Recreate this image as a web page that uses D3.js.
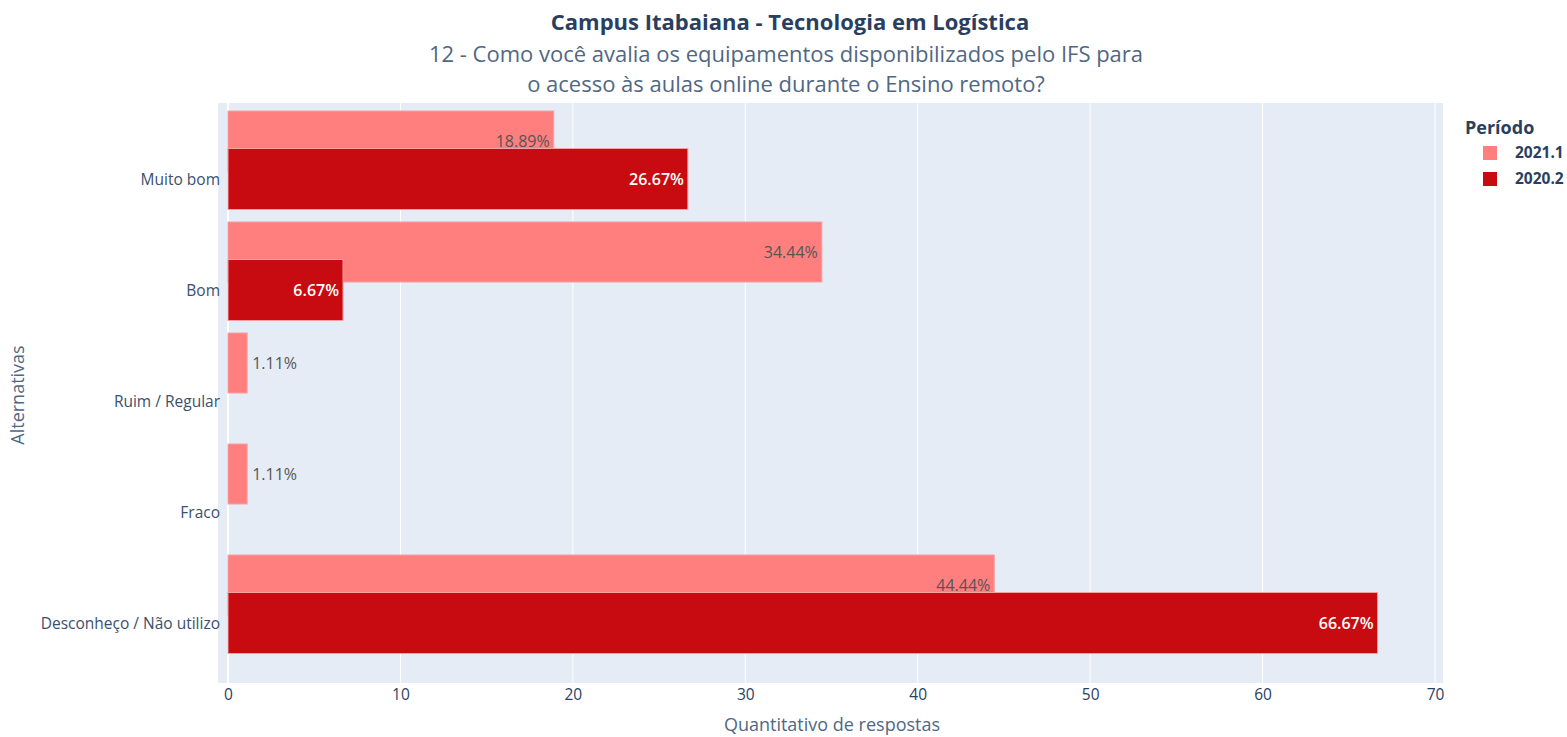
<!DOCTYPE html>
<html><head><meta charset="utf-8">
<script src="https://cdn.jsdelivr.net/npm/d3@7"></script>
<style>body{margin:0;background:#fff;} text{font-family:"Open Sans",sans-serif;}</style>
</head><body><svg id="c" width="1567" height="737"></svg>
<script>
const categories = ["Muito bom","Bom","Ruim / Regular","Fraco","Desconheço / Não utilizo"];
const series = ["2021.1","2020.2"];
const values2021 = [18.89, 34.44, 1.11, 1.11, 44.44];
const values2020 = [26.67, 6.67, 0, 0, 66.67];
const xTicks = [0,10,20,30,40,50,60,70];
const colors = ["#ff7f7f","#c80b10"];

const svg = d3.select("#c");
const plot = {l:218,r:1443,t:103,b:683};
svg.append("rect").attr("x",plot.l).attr("y",plot.t).attr("width",plot.r-plot.l).attr("height",plot.b-plot.t).attr("fill","#e5ecf6");

const x = d3.scaleLinear().domain([0,70]).range([228,1435]);
const y = d3.scalePoint().domain(categories).range([179,623]);
const step = y.step();

svg.append("g").selectAll("line").data(xTicks).join("line")
 .attr("x1",d=>x(d)).attr("x2",d=>x(d)).attr("y1",plot.t).attr("y2",plot.b)
 .attr("stroke","#fff").attr("stroke-width",d=>d===0?2:1);

const xAxis = d3.axisBottom(x).tickValues(xTicks).tickSize(0).tickPadding(0);
const gx = svg.append("g").attr("transform",`translate(0,${plot.b})`).call(xAxis);
gx.select(".domain").remove();
gx.selectAll("text").attr("y",17).attr("font-size",15.5).attr("fill","#2a3f5f").attr("font-family","Open Sans").attr("dy","0");

const yAxis = d3.axisLeft(y).tickSize(0).tickPadding(0);
const gy = svg.append("g").attr("transform",`translate(220,0)`).call(yAxis);
gy.select(".domain").remove();
gy.selectAll("text").attr("x",0).attr("dy","0.35em").attr("font-size",15.5).attr("fill","#3b4f6e").attr("font-family","Open Sans");

const offs = [[-68/111, -8/111],[-30.5/111, 30.5/111]];
const dataSets = [values2021, values2020];

dataSets.forEach((vals,si)=>{
  const g = svg.append("g");
  const rows = categories.map((c,i)=>({c,v:vals[i]})).filter(d=>d.v>0);
  g.selectAll("rect").data(rows).join("rect")
   .attr("x",x(0)).attr("width",d=>x(d.v)-x(0))
   .attr("y",d=>y(d.c)+offs[si][0]*step).attr("height",(offs[si][1]-offs[si][0])*step)
   .attr("fill",colors[si]).attr("stroke","#f5a0a0").attr("stroke-width",1);
  g.selectAll("text").data(rows).join("text")
   .each(function(d){
     const t = d3.select(this);
     const cy = y(d.c)+(offs[si][0]+offs[si][1])/2*step;
     const label = d.v.toFixed(2)+"%";
     const w = x(d.v)-x(0);
     t.text(label).attr("y",cy).attr("dy","0.35em").attr("font-size",16);
     if (w>60){
       t.attr("x",x(d.v)-4).attr("text-anchor","end")
        .attr("fill",si===1?"#fff":"#555").attr("font-weight",si===1?"600":"400");
     } else {
       t.attr("x",x(d.v)+5).attr("text-anchor","start").attr("fill","#555");
     }
   });
});

svg.append("text").attr("x",790).attr("y",30).attr("text-anchor","middle").attr("font-size",22).attr("font-weight","700").attr("fill","#2a3f5f").text("Campus Itabaiana - Tecnologia em Logística");
svg.append("text").attr("x",786).attr("y",62).attr("text-anchor","middle").attr("font-size",22).attr("fill","#506784").text("12 - Como você avalia os equipamentos disponibilizados pelo IFS para");
svg.append("text").attr("x",786).attr("y",92).attr("text-anchor","middle").attr("font-size",22).attr("fill","#506784").text("o acesso às aulas online durante o Ensino remoto?");

svg.append("text").attr("x",832).attr("y",731).attr("text-anchor","middle").attr("font-size",18).attr("fill","#506784").text("Quantitativo de respostas");
svg.append("text").attr("transform","translate(24,395) rotate(-90)").attr("text-anchor","middle").attr("font-size",18).attr("fill","#506784").text("Alternativas");

const lg = svg.append("g");
lg.append("text").attr("x",1465).attr("y",134).attr("font-size",18).attr("font-weight","700").attr("fill","#2a3f5f").text("Período");
series.forEach((s,i)=>{
  lg.append("rect").attr("x",1483).attr("y",146+i*26).attr("width",14).attr("height",14).attr("fill",colors[i]);
  lg.append("text").attr("x",1515).attr("y",153+i*26).attr("dy","0.35em").attr("font-size",15.5).attr("font-weight","700").attr("fill","#2a3f5f").text(s);
});
</script></body></html>
